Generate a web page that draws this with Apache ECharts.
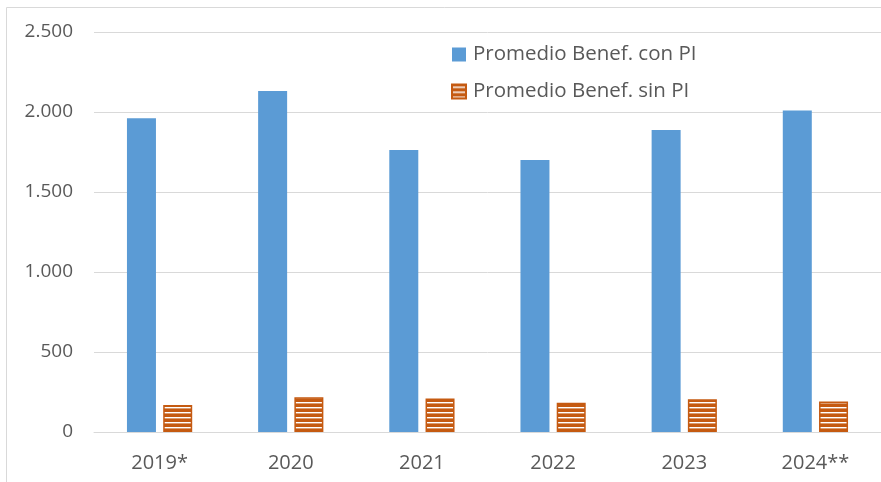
<!DOCTYPE html>
<html>
<head>
<meta charset="utf-8">
<script src="https://cdn.jsdelivr.net/npm/echarts@6/dist/echarts.min.js"></script>
<style>
  html, body { margin: 0; padding: 0; background: #fff; }
  #main { width: 881px; height: 482px; }
</style>
</head>
<body>
<div id="main"></div>
<script>
// datos del gráfico
var categorias = ['2019*', '2020', '2021', '2022', '2023', '2024**'];
var conPI = [1961, 2131, 1762, 1700, 1887, 2010];
var sinPI = [169, 217, 210, 183, 204, 190];
var nombres = ['Promedio Benef. con PI', 'Promedio Benef. sin PI'];

/**
 * patrón de rayas horizontales (naranja con líneas blancas)
 */
function rayas(){
	var c = document.createElement('canvas');
	c.width = 8;
	c.height = 5;
	var ctx = c.getContext('2d');
	ctx.fillStyle = '#C55A11';
	ctx.fillRect(0, 0, 8, 5);
	ctx.fillStyle = '#ffffff';
	ctx.fillRect(0, 2, 8, 1.4);
	return c;
}

function milesPunto(v){
	return String(v).replace(/\B(?=(\d{3})+(?!\d))/g, '.');
}

var myChart = echarts.init(document.getElementById('main'));
var fuente = '"Open Sans", "Liberation Sans", sans-serif';
var option = {
	animation: false,
	color: ['#5B9BD5', '#C55A11'],
	graphic: [{
		type: 'rect',
		z: -10,
		shape: { x: 6.5, y: 7.5, width: 900, height: 500 },
		style: { fill: 'none', stroke: '#d9d9d9', lineWidth: 1 }
	}],
	legend: {
		orient: 'vertical',
		left: 446,
		top: 39,
		itemWidth: 14,
		itemHeight: 14,
		itemGap: 16,
		icon: 'rect',
		textStyle: { color: '#595959', fontSize: 20.5, fontFamily: fuente, padding: [0, 0, 0, 2] },
		data: nombres
	},
	grid: {
		left: 94,
		right: -4,
		top: 32,
		bottom: 50
	},
	xAxis: {
		type: 'category',
		data: categorias,
		axisLine: { lineStyle: { color: '#d9d9d9', width: 1 } },
		axisTick: { show: false },
		axisLabel: { color: '#595959', fontSize: 20, fontFamily: fuente, margin: 21 }
	},
	yAxis: {
		type: 'value',
		min: 0,
		max: 2500,
		interval: 500,
		axisLine: { show: false },
		axisTick: { show: false },
		splitLine: { lineStyle: { color: '#d9d9d9', width: 1 } },
		axisLabel: {
			color: '#595959', fontSize: 19, fontFamily: fuente, margin: 21,
			formatter: milesPunto
		}
	},
	series: [{
		name: nombres[0],
		type: 'bar',
		barWidth: 29,
		barGap: '25%',
		itemStyle: { color: '#5B9BD5' },
		data: conPI
	}, {
		name: nombres[1],
		type: 'bar',
		barWidth: 29,
		itemStyle: {
			color: { image: rayas(), repeat: 'repeat' },
			borderColor: '#C55A11',
			borderWidth: 1.5
		},
		data: sinPI
	}]
};
myChart.setOption(option);
</script>
</body>
</html>
